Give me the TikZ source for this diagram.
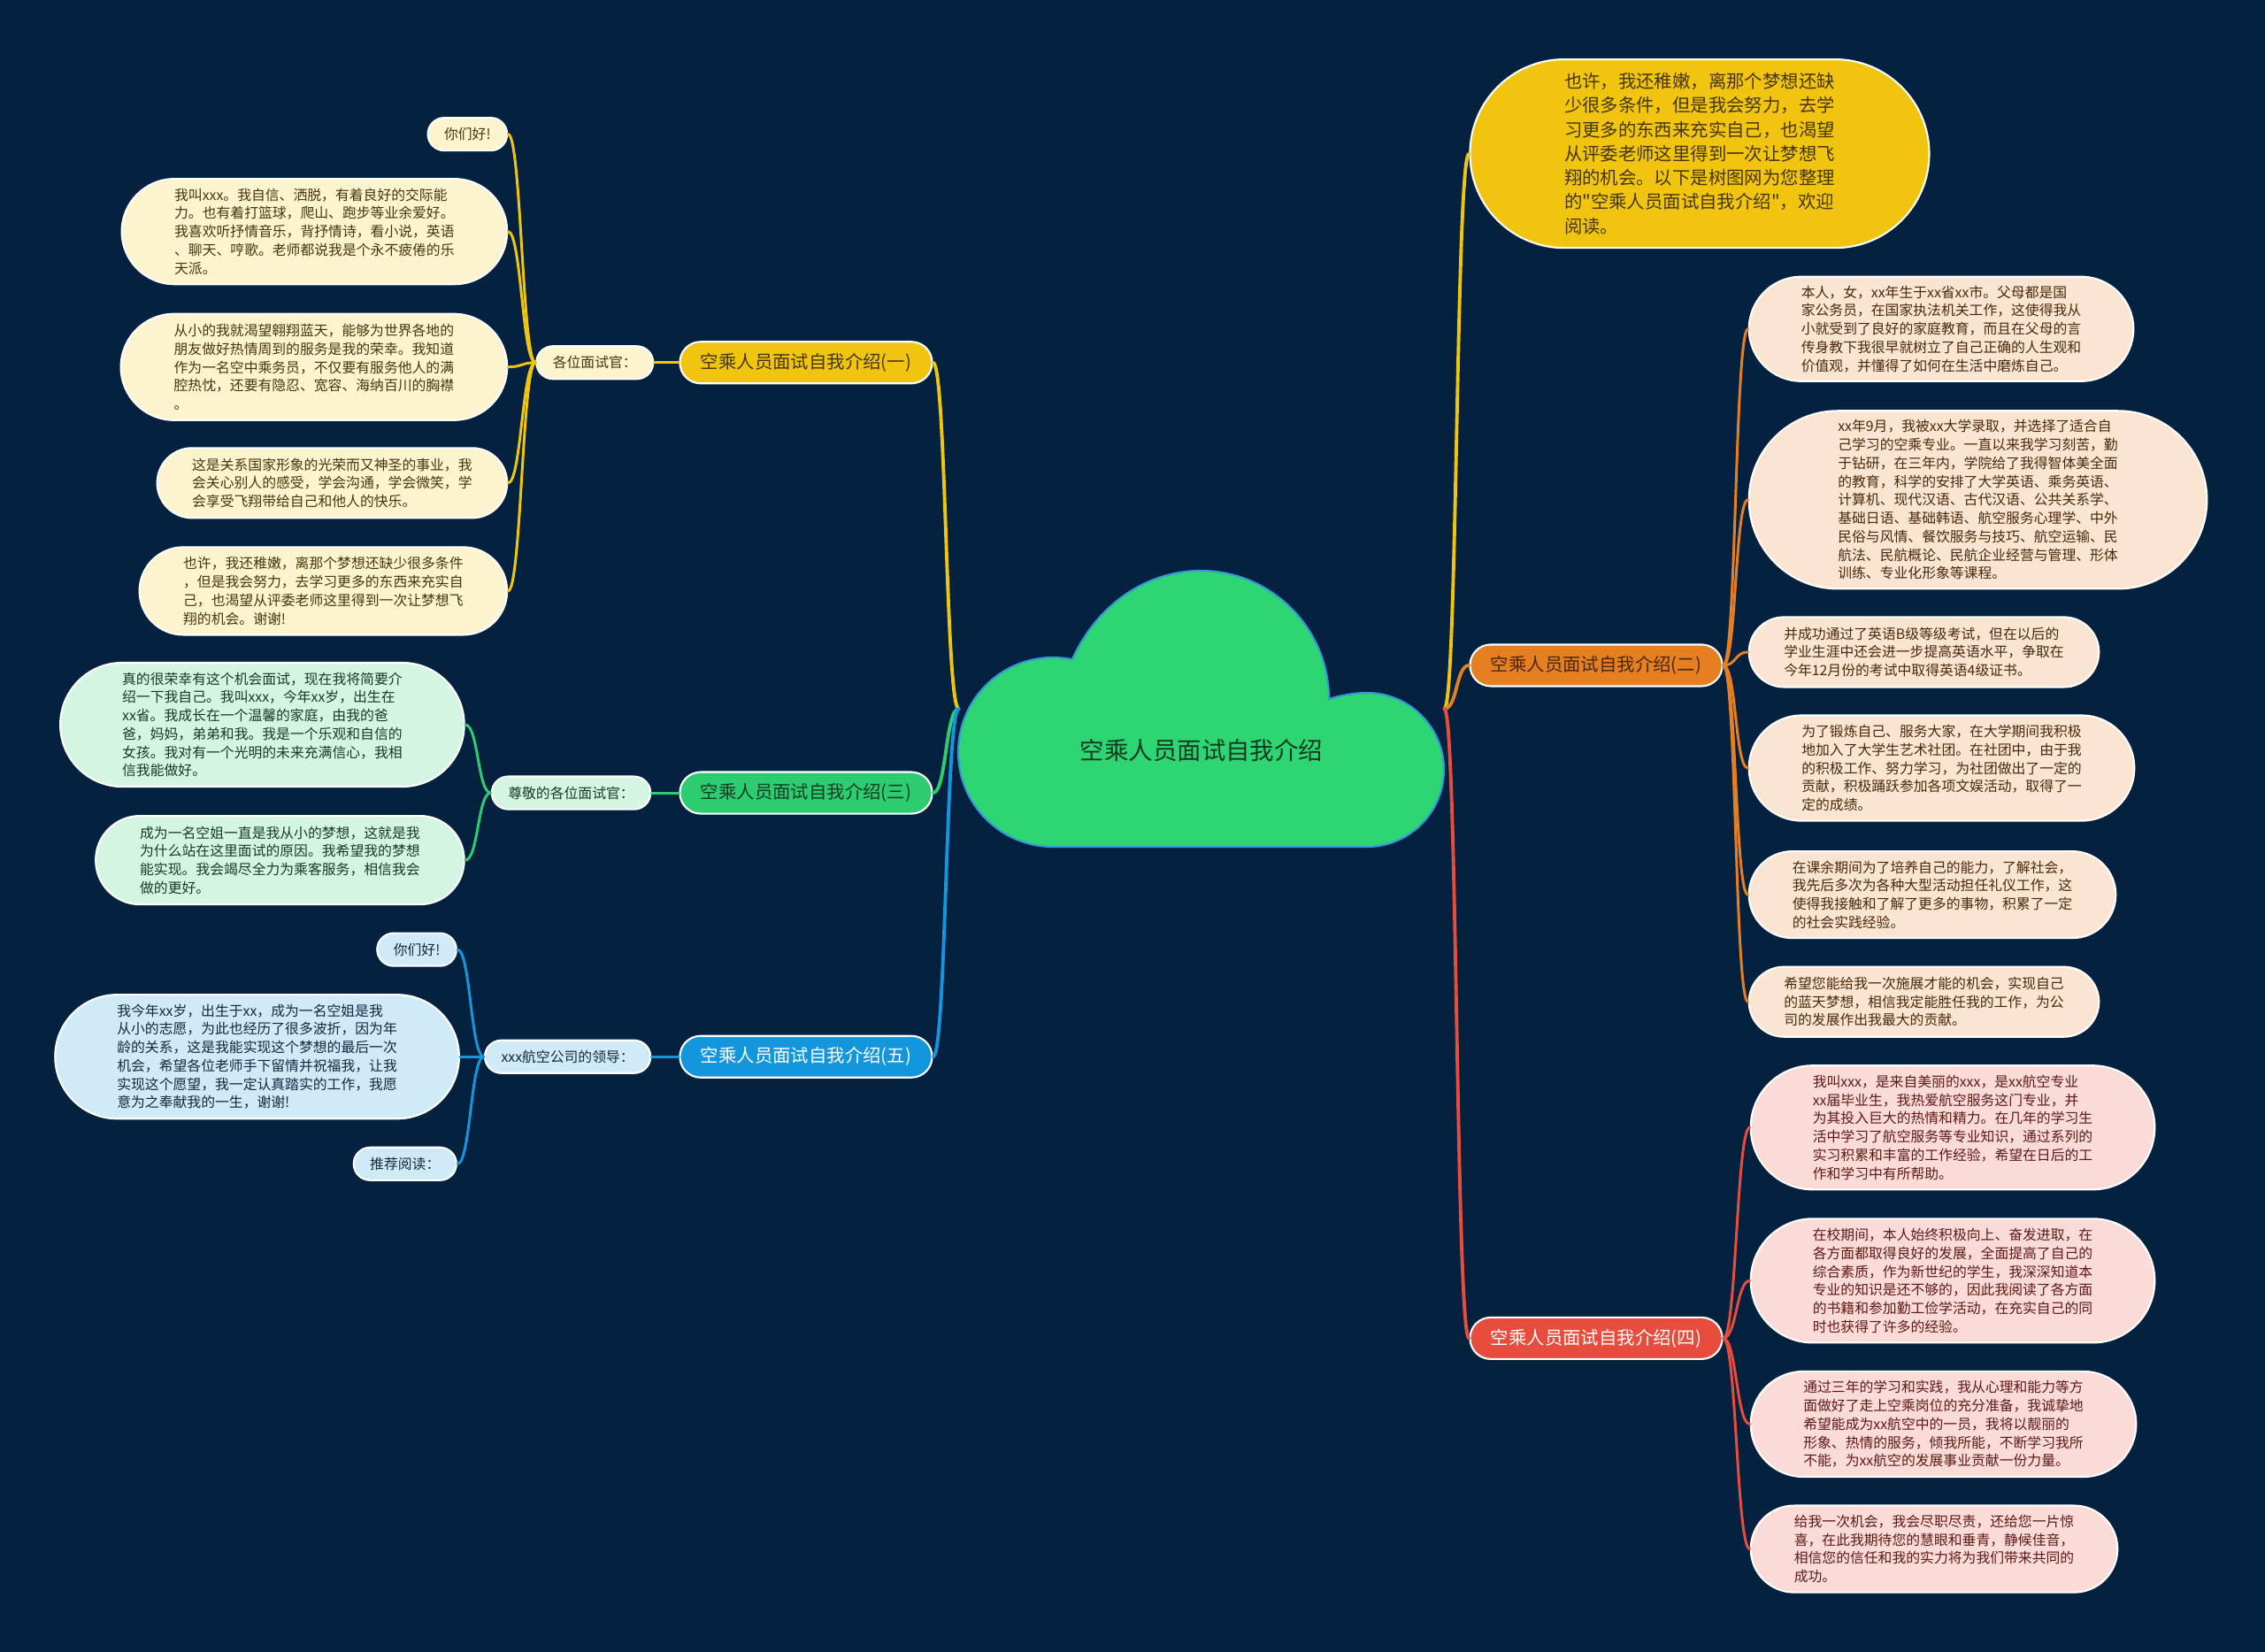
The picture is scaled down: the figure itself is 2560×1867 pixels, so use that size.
\documentclass[tikz,border=0pt]{standalone}
\usepackage{fontspec}
\setmainfont{Noto Sans CJK SC}
\newfontfamily\plainfont{Noto Sans CJK SC}
\usetikzlibrary{positioning}

\definecolor{bgnavy}{RGB}{4,34,63}
\definecolor{cloudfill}{RGB}{46,213,115}
\definecolor{cloudline}{RGB}{52,152,219}
\definecolor{rootink}{RGB}{22,58,32}
\definecolor{yelmain}{RGB}{241,196,15}
\definecolor{yelleaf}{RGB}{252,243,207}
\definecolor{yeltext}{RGB}{70,55,10}
\definecolor{grnmain}{RGB}{46,204,113}
\definecolor{grnleaf}{RGB}{213,245,227}
\definecolor{grntext}{RGB}{20,60,35}
\definecolor{blumain}{RGB}{20,150,220}
\definecolor{bluleaf}{RGB}{208,234,248}
\definecolor{blutext}{RGB}{20,40,65}
\definecolor{orgmain}{RGB}{230,126,34}
\definecolor{orgleaf}{RGB}{250,229,211}
\definecolor{orgtext}{RGB}{75,40,10}
\definecolor{redmain}{RGB}{231,76,60}
\definecolor{redleaf}{RGB}{250,219,216}
\definecolor{redtext}{RGB}{95,25,20}

\begin{document}
\begin{tikzpicture}[x=0.01cm, y=-0.01cm, line cap=round,
  pill/.style={rectangle, draw=white, line width=0.6pt, inner ysep=0pt,
    minimum height=#1, rounded corners=#1/2, inner xsep=#1/2},
  mainbox/.style={pill=0.47cm, font=\fontsize{5.8pt}{7pt}\selectfont},
  subbox/.style={pill=0.37cm, font=\fontsize{4.5pt}{5.9pt}\selectfont},
  leafbox/.style={pill=#1, align=left, font=\fontsize{4.5pt}{5.9pt}\selectfont},
  sumbox/.style={pill=2.13cm, align=left, font=\plainfont\fontsize{5.8pt}{7.74pt}\selectfont},
  yelbox/.style={fill=yelleaf, text=yeltext},
  grnbox/.style={fill=grnleaf, text=grntext},
  blubox/.style={fill=bluleaf, text=blutext},
  orgbox/.style={fill=orgleaf, text=orgtext},
  redbox/.style={fill=redleaf, text=redtext},
  trunk/.style={line width=1.1pt},
  link/.style={line width=0.85pt}]

  \fill[bgnavy] (0,0) rectangle (2560,1867);

  % 中心云朵
  \draw[fill=cloudfill, draw=cloudline, line width=0.6pt]
    (1190,957) .. controls (1131,957) and (1083,909) .. (1083,850)
    .. controls (1083,791) and (1131,743) .. (1190,743)
    .. controls (1198,743) and (1205,744) .. (1212,745)
    .. controls (1240,683) and (1296,645) .. (1357,645)
    .. controls (1437,645) and (1502,710) .. (1502,790)
    .. controls (1515,786) and (1530,783) .. (1545,783)
    .. controls (1593,783) and (1632,822) .. (1632,870)
    .. controls (1632,918) and (1593,957) .. (1545,957) -- cycle;
  \node[font=\fontsize{7.8pt}{9pt}\selectfont, text=rootink, minimum width=5.47cm, minimum height=3.11cm,
    text height=1.14cm, text depth=0pt] (root) at (1358,801) {空乘人员面试自我介绍};

  % 左侧分支
  \node[mainbox, fill=yelmain, text=yeltext, left=0.29cm of root, yshift=3.91cm] (part1) {空乘人员面试自我介绍(一)};
  \node[mainbox, fill=grnmain, text=grntext, left=0.29cm of root, yshift=-0.95cm] (part3) {空乘人员面试自我介绍(三)};
  \node[mainbox, fill=blumain, text=white, left=0.29cm of root, yshift=-3.93cm] (part5) {空乘人员面试自我介绍(五)};

  % 右侧分支
  \node[sumbox, fill=yelmain, text=yeltext, right=0.28cm of root, yshift=6.27cm] (summary) {也许，我还稚嫩，离那个梦想还缺\\少很多条件，但是我会努力，去学\\习更多的东西来充实自己，也渴望\\从评委老师这里得到一次让梦想飞\\翔的机会。以下是树图网为您整理\\的"空乘人员面试自我介绍"，欢迎\\阅读。};
  \node[mainbox, fill=orgmain, text=orgtext, right=0.28cm of root, yshift=0.49cm] (part2) {空乘人员面试自我介绍(二)};
  \node[mainbox, fill=redmain, text=white, right=0.28cm of root, yshift=-7.11cm] (part4) {空乘人员面试自我介绍(四)};

  % 第一部分
  \node[subbox, yelbox, left=0.28cm of part1] (hello1) {各位面试官：};
  \node[subbox, yelbox, left=0.31cm of hello1, yshift=2.58cm] (p1a) {你们好!};
  \node[leafbox=1.19cm, yelbox, left=0.31cm of hello1, yshift=1.48cm] (p1b) {我叫xxx。我自信、洒脱，有着良好的交际能\\力。也有着打篮球，爬山、跑步等业余爱好。\\我喜欢听抒情音乐，背抒情诗，看小说，英语\\、聊天、哼歌。老师都说我是个永不疲倦的乐\\天派。};
  \node[leafbox=1.20cm, yelbox, left=0.31cm of hello1, yshift=-0.05cm] (p1c) {从小的我就渴望翱翔蓝天，能够为世界各地的\\朋友做好热情周到的服务是我的荣幸。我知道\\作为一名空中乘务员，不仅要有服务他人的满\\腔热忱，还要有隐忍、宽容、海纳百川的胸襟\\。};
  \node[leafbox=0.79cm, yelbox, left=0.31cm of hello1, yshift=-1.36cm] (p1d) {这是关系国家形象的光荣而又神圣的事业，我\\会关心别人的感受，学会沟通，学会微笑，学\\会享受飞翔带给自己和他人的快乐。};
  \node[leafbox=0.99cm, yelbox, left=0.31cm of hello1, yshift=-2.58cm] (p1e) {也许，我还稚嫩，离那个梦想还缺少很多条件\\，但是我会努力，去学习更多的东西来充实自\\己，也渴望从评委老师这里得到一次让梦想飞\\翔的机会。谢谢!};

  % 第三部分
  \node[subbox, grnbox, left=0.31cm of part3] (hello3) {尊敬的各位面试官：};
  \node[leafbox=1.40cm, grnbox, left=0.29cm of hello3, yshift=0.77cm] (p3a) {真的很荣幸有这个机会面试，现在我将简要介\\绍一下我自己。我叫xxx，今年xx岁，出生在\\xx省。我成长在一个温馨的家庭，由我的爸\\爸，妈妈，弟弟和我。我是一个乐观和自信的\\女孩。我对有一个光明的未来充满信心，我相\\信我能做好。};
  \node[leafbox=1.00cm, grnbox, left=0.29cm of hello3, yshift=-0.76cm] (p3b) {成为一名空姐一直是我从小的梦想，这就是我\\为什么站在这里面试的原因。我希望我的梦想\\能实现。我会竭尽全力为乘客服务，相信我会\\做的更好。};

  % 第五部分
  \node[subbox, blubox, left=0.31cm of part5] (hello5) {xxx航空公司的领导：};
  \node[subbox, blubox, left=0.30cm of hello5, yshift=1.21cm] (p5a) {你们好!};
  \node[leafbox=1.40cm, blubox, left=0.27cm of hello5] (p5b) {我今年xx岁，出生于xx，成为一名空姐是我\\从小的志愿，为此也经历了很多波折，因为年\\龄的关系，这是我能实现这个梦想的最后一次\\机会，希望各位老师手下留情并祝福我，让我\\实现这个愿望，我一定认真踏实的工作，我愿\\意为之奉献我的一生，谢谢!};
  \node[subbox, blubox, left=0.30cm of hello5, yshift=-1.21cm] (p5c) {推荐阅读：};

  % 第二部分
  \node[leafbox=1.18cm, orgbox, right=0.28cm of part2, yshift=3.80cm] (p2a) {本人，女，xx年生于xx省xx市。父母都是国\\家公务员，在国家执法机关工作，这使得我从\\小就受到了良好的家庭教育，而且在父母的言\\传身教下我很早就树立了自己正确的人生观和\\价值观，并懂得了如何在生活中磨炼自己。};
  \node[leafbox=2.01cm, orgbox, right=0.28cm of part2, yshift=1.87cm] (p2b) {xx年9月，我被xx大学录取，并选择了适合自\\己学习的空乘专业。一直以来我学习刻苦，勤\\于钻研，在三年内，学院给了我得智体美全面\\的教育，科学的安排了大学英语、乘务英语、\\计算机、现代汉语、古代汉语、公共关系学、\\基础日语、基础韩语、航空服务心理学、中外\\民俗与风情、餐饮服务与技巧、航空运输、民\\航法、民航概论、民航企业经营与管理、形体\\训练、专业化形象等课程。};
  \node[leafbox=0.79cm, orgbox, right=0.28cm of part2, yshift=0.15cm] (p2c) {并成功通过了英语B级等级考试，但在以后的\\学业生涯中还会进一步提高英语水平，争取在\\今年12月份的考试中取得英语4级证书。};
  \node[leafbox=1.19cm, orgbox, right=0.28cm of part2, yshift=-1.16cm] (p2d) {为了锻炼自己、服务大家，在大学期间我积极\\地加入了大学生艺术社团。在社团中，由于我\\的积极工作、努力学习，为社团做出了一定的\\贡献，积极踊跃参加各项文娱活动，取得了一\\定的成绩。};
  \node[leafbox=0.98cm, orgbox, right=0.28cm of part2, yshift=-2.59cm] (p2e) {在课余期间为了培养自己的能力，了解社会，\\我先后多次为各种大型活动担任礼仪工作，这\\使得我接触和了解了更多的事物，积累了一定\\的社会实践经验。};
  \node[leafbox=0.79cm, orgbox, right=0.28cm of part2, yshift=-3.80cm] (p2f) {希望您能给我一次施展才能的机会，实现自己\\的蓝天梦想，相信我定能胜任我的工作，为公\\司的发展作出我最大的贡献。};

  % 第四部分
  \node[leafbox=1.40cm, redbox, right=0.30cm of part4, yshift=2.38cm] (p4a) {我叫xxx，是来自美丽的xxx，是xx航空专业\\xx届毕业生，我热爱航空服务这门专业，并\\为其投入巨大的热情和精力。在几年的学习生\\活中学习了航空服务等专业知识，通过系列的\\实习积累和丰富的工作经验，希望在日后的工\\作和学习中有所帮助。};
  \node[leafbox=1.40cm, redbox, right=0.30cm of part4, yshift=0.65cm] (p4b) {在校期间，本人始终积极向上、奋发进取，在\\各方面都取得良好的发展，全面提高了自己的\\综合素质，作为新世纪的学生，我深深知道本\\专业的知识是还不够的，因此我阅读了各方面\\的书籍和参加勤工俭学活动，在充实自己的同\\时也获得了许多的经验。};
  \node[leafbox=1.19cm, redbox, right=0.30cm of part4, yshift=-0.97cm] (p4c) {通过三年的学习和实践，我从心理和能力等方\\面做好了走上空乘岗位的充分准备，我诚挚地\\希望能成为xx航空中的一员，我将以靓丽的\\形象、热情的服务，倾我所能，不断学习我所\\不能，为xx航空的发展事业贡献一份力量。};
  \node[leafbox=0.98cm, redbox, right=0.30cm of part4, yshift=-2.38cm] (p4d) {给我一次机会，我会尽职尽责，还给您一片惊\\喜，在此我期待您的慧眼和垂青，静候佳音，\\相信您的信任和我的实力将为我们带来共同的\\成功。};

  % 中心到各分支
  \draw[trunk, yelmain] (root.west) .. controls +(-15,0) and +(15,0) .. (part1.east);
  \draw[trunk, grnmain] (root.west) .. controls +(-15,0) and +(15,0) .. (part3.east);
  \draw[trunk, blumain] (root.west) .. controls +(-15,0) and +(15,0) .. (part5.east);
  \draw[trunk, yelmain] (root.east) .. controls +(15,0) and +(-15,0) .. (summary.west);
  \draw[trunk, orgmain] (root.east) .. controls +(15,0) and +(-15,0) .. (part2.west);
  \draw[trunk, redmain] (root.east) .. controls +(15,0) and +(-15,0) .. (part4.west);

  % 左侧连线
  \draw[link, yelmain] (part1.west) -- (hello1.east);
  \draw[link, yelmain] (hello1.west) .. controls +(-15,0) and +(15,0) .. (p1a.east);
  \draw[link, yelmain] (hello1.west) .. controls +(-15,0) and +(15,0) .. (p1b.east);
  \draw[link, yelmain] (hello1.west) .. controls +(-15,0) and +(15,0) .. (p1c.east);
  \draw[link, yelmain] (hello1.west) .. controls +(-15,0) and +(15,0) .. (p1d.east);
  \draw[link, yelmain] (hello1.west) .. controls +(-15,0) and +(15,0) .. (p1e.east);
  \draw[link, grnmain] (part3.west) -- (hello3.east);
  \draw[link, grnmain] (hello3.west) .. controls +(-15,0) and +(15,0) .. (p3a.east);
  \draw[link, grnmain] (hello3.west) .. controls +(-15,0) and +(15,0) .. (p3b.east);
  \draw[link, blumain] (part5.west) -- (hello5.east);
  \draw[link, blumain] (hello5.west) .. controls +(-15,0) and +(15,0) .. (p5a.east);
  \draw[link, blumain] (hello5.west) -- (p5b.east);
  \draw[link, blumain] (hello5.west) .. controls +(-15,0) and +(15,0) .. (p5c.east);

  % 右侧连线
  \draw[link, orgmain] (part2.east) .. controls +(15,0) and +(-15,0) .. (p2a.west);
  \draw[link, orgmain] (part2.east) .. controls +(15,0) and +(-15,0) .. (p2b.west);
  \draw[link, orgmain] (part2.east) .. controls +(15,0) and +(-15,0) .. (p2c.west);
  \draw[link, orgmain] (part2.east) .. controls +(15,0) and +(-15,0) .. (p2d.west);
  \draw[link, orgmain] (part2.east) .. controls +(15,0) and +(-15,0) .. (p2e.west);
  \draw[link, orgmain] (part2.east) .. controls +(15,0) and +(-15,0) .. (p2f.west);
  \draw[link, redmain] (part4.east) .. controls +(15,0) and +(-15,0) .. (p4a.west);
  \draw[link, redmain] (part4.east) .. controls +(15,0) and +(-15,0) .. (p4b.west);
  \draw[link, redmain] (part4.east) .. controls +(15,0) and +(-15,0) .. (p4c.west);
  \draw[link, redmain] (part4.east) .. controls +(15,0) and +(-15,0) .. (p4d.west);
\end{tikzpicture}
\end{document}
